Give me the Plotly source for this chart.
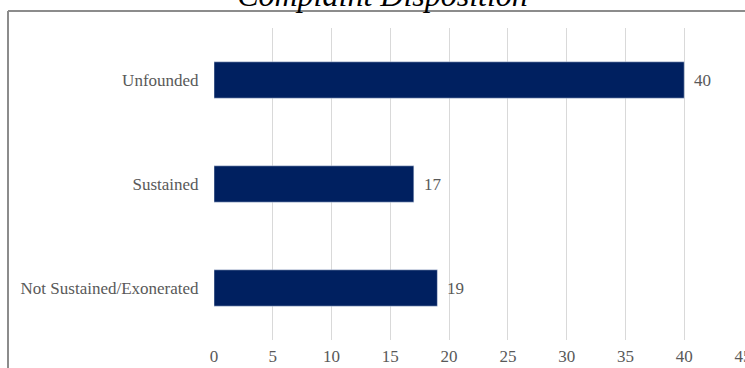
import plotly.graph_objects as go

categories = ["Not Sustained/Exonerated", "Sustained", "Unfounded"]
values = [19, 17, 40]
x_ticks = [0, 5, 10, 15, 20, 25, 30, 35, 40, 45]
title_text = "Complaint Disposition"

W, H = 745, 368
L, R, T, B = 214, 2, 28, 28
pw = W - L - R
ph = H - T - B

font_fam = "Liberation Serif, Times New Roman, serif"
txt_col = "#595959"

fig = go.Figure(go.Bar(
    x=values, y=categories, orientation="h",
    marker=dict(color="#002060"),
    hoverinfo="skip",
))

for v, c in zip(values, categories):
    fig.add_annotation(x=v, y=c, text=str(v), showarrow=False,
                       xanchor="left", xshift=8,
                       font=dict(family=font_fam, size=17, color=txt_col))

fig.add_shape(type="line", xref="paper", yref="paper",
              x0=(8 - L) / pw, x1=1.2, y0=(H - B - 11) / ph, y1=(H - B - 11) / ph,
              line=dict(color="#8c8c8c", width=2))
fig.add_shape(type="line", xref="paper", yref="paper",
              x0=(8 - L) / pw, x1=(8 - L) / pw, y0=-0.3, y1=(H - B - 11) / ph,
              line=dict(color="#8c8c8c", width=2))

fig.update_layout(
    width=W, height=H,
    margin=dict(l=L, r=R, t=T, b=B, autoexpand=False),
    paper_bgcolor="white", plot_bgcolor="white",
    bargap=0.65,
    showlegend=False,
    title=dict(text="<i>" + title_text + "</i>", x=382.5 / W, xanchor="center",
               y=1 - 6 / H, yanchor="bottom", yref="container",
               font=dict(family=font_fam, size=32, color="black")),
    xaxis=dict(range=[0, 45], tickvals=x_ticks, ticktext=[str(t) for t in x_ticks],
               showgrid=True, gridcolor="#d9d9d9", gridwidth=1,
               zeroline=False, showline=False, automargin=False,
               ticks="outside", ticklen=1, tickcolor="rgba(0,0,0,0)",
               ticklabeloverflow="allow",
               tickfont=dict(family=font_fam, size=17, color=txt_col)),
    yaxis=dict(categoryorder="array", categoryarray=categories,
               showgrid=False, zeroline=False, showline=False, automargin=False,
               ticks="outside", ticklen=11, tickcolor="rgba(0,0,0,0)",
               tickfont=dict(family=font_fam, size=17, color=txt_col)),
)

fig.write_html("out.html")
